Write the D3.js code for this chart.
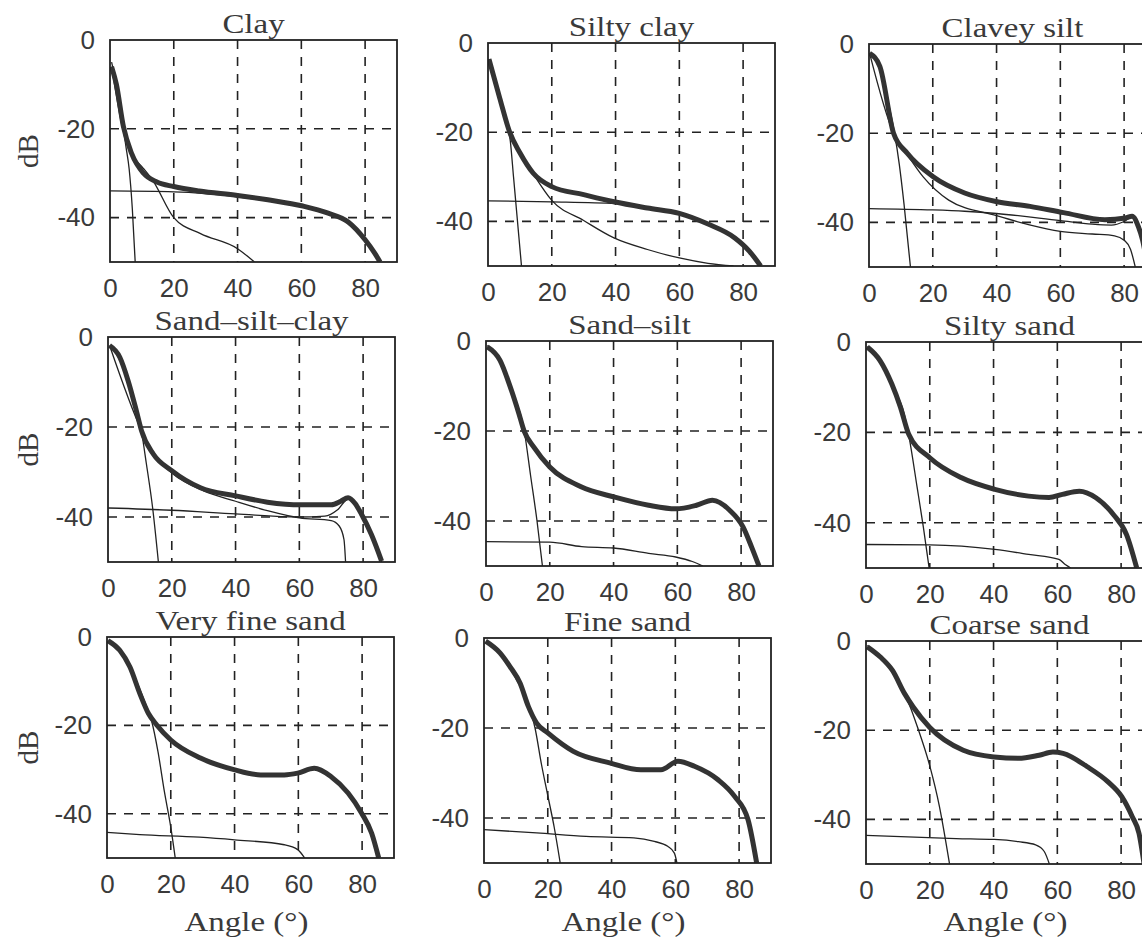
<!DOCTYPE html>
<html>
<head>
<meta charset="utf-8">
<script src="https://cdn.jsdelivr.net/npm/d3@7"></script>
<style>
  body { margin: 0; background: #fff; }
  svg { display: block; }
</style>
</head>
<body>
<div class="chart"></div>
<script>
// sediment types, one panel each, row by row
const titles = ["Clay", "Silty clay", "Clavey silt",
                "Sand\u2013silt\u2013clay", "Sand\u2013silt", "Silty sand",
                "Very fine sand", "Fine sand", "Coarse sand"];

const angleTicks = [0, 20, 40, 60, 80];
const dbTicks = [0, -20, -40];
const dbGrid = [-20, -40];

// total backscatter (thick curve), [angle, dB]
const totalDb = [
  [[0.5,-6],[2,-10],[4.2,-19.5],[6.8,-25.6],[10.5,-30],[14.7,-32],[20,-33],[28,-34],[40,-35],[49.5,-36],[60.5,-37.4],[68.4,-39],[74.7,-41],[80,-45],[83,-48],[84.7,-50]],
  [[0.3,-3.6],[3.7,-12.4],[6.8,-20],[10,-24.6],[14.2,-29.2],[20,-32.2],[30,-34],[39.5,-35.6],[50,-37],[60,-38.2],[69,-40.6],[77.4,-43.7],[82,-46.7],[85.5,-50]],
  [[0.2,-2.1],[3.4,-5],[7.7,-20],[12,-24.5],[20,-29.7],[30,-33.4],[39.8,-35.3],[50.5,-36.4],[61,-37.8],[74,-39.4],[80.4,-39],[82.5,-38.6],[84.5,-41],[85.8,-44],[87.4,-50]],
  [[0.5,-1.9],[3.7,-4.5],[6.3,-9.7],[8.9,-16.4],[10.5,-20.8],[14.2,-26],[20,-29.7],[29,-33.5],[40,-35.3],[50,-36.7],[60.5,-37.3],[70,-37.3],[73,-36.5],[75.3,-35.7],[77.5,-37],[79.5,-39.4],[82.6,-43.9],[85.8,-49.8]],
  [[0.4,-1.3],[4.4,-4.3],[7.6,-10.2],[10.3,-16.1],[11.9,-19.9],[15,-23.6],[20,-28],[29.8,-32.4],[40.4,-34.7],[51,-36.5],[59.5,-37.3],[66,-36.5],[71,-35.4],[76.4,-37.6],[80.6,-41.3],[83.3,-45.8],[85.6,-50]],
  [[0.4,-1.1],[4.4,-4.1],[8.1,-9.3],[10.8,-14.4],[13.4,-20.4],[20,-25.6],[29.8,-30],[40.4,-32.6],[51,-34.1],[57.4,-34.4],[61.6,-33.7],[66.9,-33],[72,-34.4],[77.5,-38.1],[81.7,-42.6],[84.9,-50]],
  [[0.3,-0.8],[4,-3],[7.2,-6.8],[10.3,-12.8],[13,-17.3],[15.6,-19.9],[20,-23.3],[29.3,-27.4],[39.8,-30],[48.2,-31.2],[55.6,-31.2],[59.8,-30.8],[65,-29.7],[70.3,-31.6],[75.6,-35.3],[79.8,-39.8],[83,-44.4],[85.2,-50]],
  [[0.5,-0.7],[5,-3.3],[8.1,-6.3],[11.3,-10],[13.9,-15.2],[16.5,-18.9],[20,-21.1],[28,-25.2],[39.7,-27.8],[49.2,-29.3],[55.5,-29.3],[60.8,-27.4],[66,-28.5],[73.4,-31.5],[78.6,-35.2],[82.8,-40.4],[85.5,-50]],
  [[0.4,-1.3],[4.5,-3.6],[8.3,-6.6],[12.1,-11.8],[14.8,-14.8],[20,-19.4],[30.5,-24.5],[40.2,-26],[47.8,-26.3],[54.3,-25.6],[58.6,-24.9],[61.8,-25.2],[69.4,-28.2],[75.9,-31.6],[80.2,-34.9],[83.5,-39.4],[85.6,-43.1],[87.2,-50]]
];

// steep near-normal component (thin)
const facetDb = [
  [[0.5,-5],[2,-10],[4,-19],[5,-24],[6,-29],[7,-38],[7.9,-50]],
  [[0.3,-4],[3,-11],[6,-18],[7,-22],[8,-30],[9,-38],[10.5,-50]],
  [[0.2,-2],[3,-5],[6,-13],[8,-20],[9.5,-27],[11,-36],[13,-50]],
  [[0.5,-2],[4,-5],[8,-14],[10.5,-21],[12,-28],[14,-38],[15.8,-50]],
  [[0.4,-1],[4,-4],[8,-11],[12,-20],[14,-30],[16,-40],[17.7,-50]],
  [[0.4,-1],[4,-4],[8,-9.5],[12,-16],[13.5,-21],[16,-32],[18,-41],[19.8,-50]],
  [[0.3,-1],[4,-3],[8,-8],[12,-15],[14,-19],[16,-26],[18,-35],[20,-43],[21.4,-50]],
  [[0.5,-1],[5,-3.5],[10,-9],[14,-15],[16,-20],[18,-28],[20,-35],[22,-42],[23.9,-50]],
  [[0.4,-1],[5,-4],[10,-9],[14,-15],[16,-19],[20,-28],[23,-37],[26.2,-50]]
];

// interface roughness component (thin), only in the fine sediments
const roughDb = [
  [[0.5,-6],[4,-20],[7,-26],[10,-28.5],[13.4,-31.6],[20,-40],[28.4,-43.6],[40,-47],[45.3,-50]],
  [[0.3,-3.6],[6.8,-20],[10,-24.6],[14.2,-29.4],[20,-35.3],[30,-39.8],[39.5,-43.7],[50,-46.3],[60,-48.2],[69,-49.4],[77,-50]],
  [[0.2,-2.1],[7.7,-20],[12,-24.8],[17,-29.8],[25,-35],[40,-38.5],[50,-40.5],[60,-42],[70,-42.6],[77,-43],[80,-44],[82,-46],[83.5,-50]],
  [[0.5,-1.9],[10.5,-20.8],[14.2,-26],[20,-30.2],[30,-34.2],[40,-36.5],[50,-38.6],[60,-40.2],[70,-40.8],[72.5,-42],[74,-45],[74.5,-50]],
  null, null, null, null, null
];

// volume component (thin, nearly flat)
const volumeDb = [
  [[0,-34],[20,-34.2],[40,-35.3],[60,-37.6],[70,-39.5],[75,-41.5],[80,-45],[84.5,-50]],
  [[0,-35.4],[20,-35.6],[40,-36],[60,-38.4],[70,-40.8],[78,-44],[82,-47],[85.4,-50]],
  [[0,-36.9],[20,-37.2],[30,-37.5],[40,-38],[60,-39.6],[70,-40.4],[76,-40.6],[80,-39.8],[82.5,-38.8],[84.5,-41.2],[85.8,-44.5],[87.2,-50]],
  [[0,-38],[20,-38.5],[40,-39.3],[60,-40],[68,-39.8],[72,-38.4],[75.3,-36],[77.5,-37.3],[79.5,-39.6],[82.6,-44],[85.8,-50]],
  [[0,-44.6],[20,-44.7],[30,-45.7],[40,-46],[51,-47.2],[59.5,-48],[64.7,-49],[68,-50]],
  [[0,-44.8],[20,-44.9],[40.4,-45.9],[51,-47],[60.5,-48.1],[62.6,-49.3],[64.2,-50]],
  [[0,-44.2],[10.3,-44.7],[29,-45.3],[40,-45.9],[55.6,-47],[59.8,-48.1],[62,-50]],
  [[0,-42.6],[16.5,-43.3],[32,-44.1],[47,-44.4],[53.4,-45.2],[57.6,-46.3],[59.7,-47.8],[60.5,-50]],
  [[0,-43.6],[28.3,-44.3],[40.2,-44.5],[47.8,-45],[53.2,-45.7],[55.9,-47.2],[57.5,-50]]
];

// panel boxes in the page
const panelLeft = [110, 488, 869, 108, 486, 866, 107, 484, 866];
const panelTop = [40, 43, 44, 337, 341, 342, 637, 638, 641];
const panelBottom = [262, 266, 267, 562, 566, 568, 858, 863, 864];
const panelWidth = 287;

const width = 1142, height = 943;
const svg = d3.select('.chart').append('svg')
  .attr('width', width)
  .attr('height', height);

const ink = '#222';
const serif = '"Liberation Serif", "Times New Roman", serif';

titles.forEach((title, i) => {
  const L = panelLeft[i], T = panelTop[i], H = panelBottom[i] - T;
  const x = d3.scaleLinear().domain([0, 90]).range([0, panelWidth]);
  const y = d3.scaleLinear().domain([-50, 0]).range([H, 0]);

  const g = svg.append('g').attr('transform', `translate(${L},${T})`);

  g.append('clipPath').attr('id', 'clip' + i)
    .append('rect').attr('width', panelWidth).attr('height', H);

  // dashed grid
  g.selectAll('.vgrid').data(angleTicks.filter(d => d > 0)).enter()
    .append('line')
    .attr('x1', d => x(d)).attr('x2', d => x(d))
    .attr('y1', 0).attr('y2', H)
    .attr('stroke', ink).attr('stroke-width', 1.6)
    .attr('stroke-dasharray', '9,8');
  g.selectAll('.hgrid').data(dbGrid).enter()
    .append('line')
    .attr('x1', 0).attr('x2', panelWidth)
    .attr('y1', d => y(d)).attr('y2', d => y(d))
    .attr('stroke', ink).attr('stroke-width', 1.6)
    .attr('stroke-dasharray', '9,8');

  const line = d3.line()
    .x(d => x(d[0]))
    .y(d => y(d[1]))
    .curve(d3.curveMonotoneX);

  const curves = g.append('g').attr('clip-path', `url(#clip${i})`);
  [volumeDb[i], roughDb[i], facetDb[i]].forEach(s => {
    if (!s) return;
    curves.append('path').attr('d', line(s))
      .attr('fill', 'none').attr('stroke', ink).attr('stroke-width', 1.3);
  });
  curves.append('path').attr('d', line(totalDb[i]))
    .attr('fill', 'none').attr('stroke', '#333').attr('stroke-width', 5)
    .attr('stroke-linejoin', 'round');

  g.append('rect')
    .attr('width', panelWidth).attr('height', H)
    .attr('fill', 'none').attr('stroke', ink).attr('stroke-width', 1.8);

  // axes
  const xAxis = g.append('g').attr('transform', `translate(0,${H})`)
    .call(d3.axisBottom(x).tickValues(angleTicks).tickSize(0).tickPadding(17)
      .tickFormat(d => String(d)));
  const yAxis = g.append('g')
    .call(d3.axisLeft(y).tickValues(dbTicks).tickSize(0).tickPadding(15)
      .tickFormat(d => String(d)));
  [xAxis, yAxis].forEach(a => {
    a.select('.domain').remove();
    a.selectAll('text')
      .attr('font-family', '"Liberation Sans", Arial, sans-serif')
      .attr('font-size', 26)
      .attr('fill', '#3a3a3a');
  });

  g.append('text')
    .attr('transform', `translate(${panelWidth / 2},-7) scale(1.22,1)`)
    .attr('text-anchor', 'middle')
    .attr('font-family', serif)
    .attr('font-size', 27)
    .attr('fill', '#3a3a3a')
    .text(title);

  if (i % 3 === 0) {
    g.append('text')
      .attr('transform', `translate(${38 - L},${H / 2}) rotate(-90)`)
      .attr('text-anchor', 'middle')
      .attr('font-family', serif)
      .attr('font-size', 29)
      .attr('fill', '#3a3a3a')
      .text('dB');
  }
  if (i >= 6) {
    g.append('text')
      .attr('transform', `translate(${panelWidth / 2 - 4},${931 - T}) scale(1.22,1)`)
      .attr('text-anchor', 'middle')
      .attr('font-family', serif)
      .attr('font-size', 27)
      .attr('fill', '#3a3a3a')
      .text('Angle (\u00b0)');
  }
});
</script>
</body>
</html>
